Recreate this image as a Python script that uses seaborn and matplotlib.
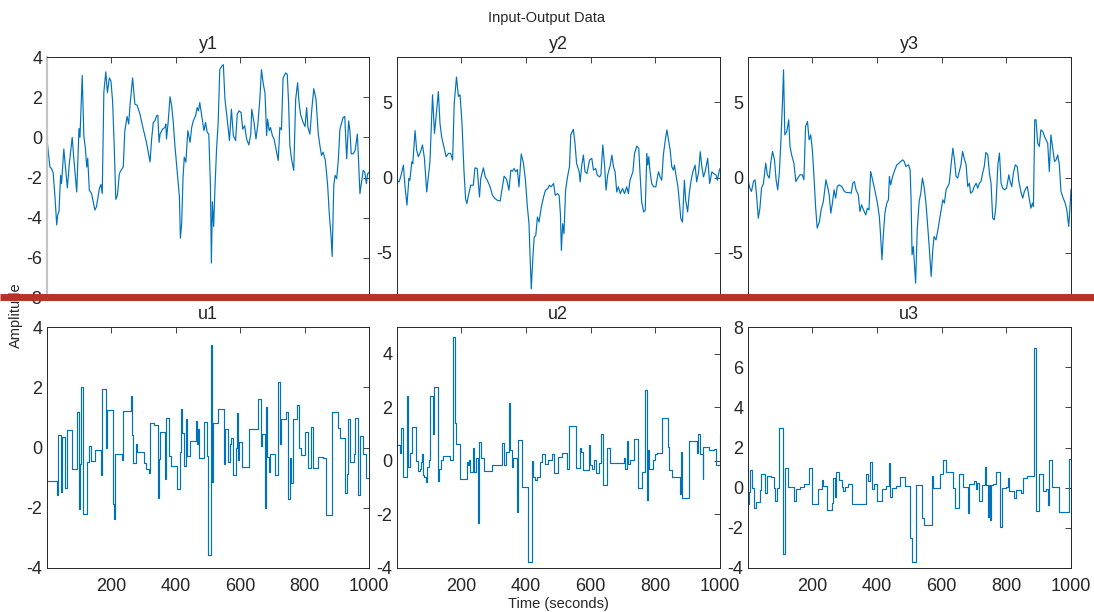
import numpy as np
import pandas as pd
import matplotlib
matplotlib.use("Agg")
import matplotlib.pyplot as plt
from matplotlib.lines import Line2D
import seaborn as sns

# ---- output channels (sampled response) ----
t_y1 = [1, 6, 11, 16, 21, 27, 32, 35, 39, 44, 47, 54, 59, 65, 71, 80, 85, 94, 101, 104,
        111, 116, 121, 125, 128, 133, 140, 150, 155, 164, 169, 173, 178, 184, 189, 195, 200, 205, 210, 215,
        220, 226, 231, 238, 243, 250, 255, 259, 267, 274, 281, 290, 300, 310, 321, 326, 331, 336, 341, 345,
        349, 352, 360, 367, 370, 372, 377, 383, 388, 393, 398, 403, 408, 412, 415, 419, 423, 427, 432, 438,
        445, 450, 455, 462, 467, 471, 475, 482, 488, 493, 498, 503, 508, 511, 514, 518, 522, 527, 532, 537,
        543, 548, 553, 560, 567, 573, 579, 586, 591, 597, 603, 608, 614, 620, 627, 633, 636, 643, 649, 655,
        661, 666, 672, 677, 682, 685, 690, 694, 700, 705, 711, 718, 723, 728, 733, 741, 746, 750, 754, 759,
        766, 772, 778, 782, 787, 795, 801, 806, 810, 816, 822, 828, 835, 842, 847, 852, 857, 864, 871, 876,
        882, 885, 890, 894, 899, 904, 909, 919, 924, 930, 936, 940, 944, 950, 956, 963, 966, 971, 976, 981,
        986, 991, 995, 1000]
y1 = [0.08, -0.74, -1.48, -1.56, -1.76, -3.05, -4.36, -3.87, -3.7, -1.89,
      -2.3, -0.58, -1.48, -2.52, -1.32, 0.0, -1.07, -2.72, 0.44, 0.0,
      3.08, 0.08, -0.58, -1.48, -1.04, -2.63, -2.8, -3.62, -3.46, -2.55,
      -2.35, -2.8, 2.25, 3.26, 2.22, 2.96, 2.8, 1.81, -0.41, -3.09,
      -2.88, -1.81, -1.65, -1.48, 0.33, 1.04, 0.66, 1.61, 2.96, 1.65,
      1.6, 1.15, 0.41, -0.25, -1.23, -0.08, 0.74, 0.82, 1.07, 1.1,
      -0.25, 0.16, 0.41, 0.49, 0.66, -0.08, 0.74, 2.02, 1.56, 0.74,
      -0.41, -1.32, -2.22, -2.96, -5.02, -4.28, -2.06, -0.99, -1.23, 0.33,
      -0.25, 0.49, 0.82, 1.07, 1.48, 1.32, 1.73, 0.99, 0.33, 0.74,
      0.25, 0.16, -2.39, -6.26, -3.21, -4.44, -2.55, -0.58, 0.74, 3.37,
      3.54, 3.62, 1.89, 0.91, -0.16, 1.4, 0.08, -0.16, 1.15, 1.32,
      1.23, 0.41, 0.58, -0.08, -0.38, 0.16, 1.4, 0.74, -0.08, 0.66,
      1.89, 3.37, 2.63, 2.22, 0.08, 0.91, 0.33, 0.49, 0.08, -0.08,
      -0.58, -1.15, 0.49, 0.38, 2.96, 3.21, 3.13, 1.73, -0.41, -1.07,
      -1.65, 1.89, 2.72, 1.81, 1.15, 0.74, 0.54, 1.48, 0.49, 0.16,
      1.4, 2.42, 1.89, 0.16, -0.41, -0.9, -0.74, -1.15, -2.39, -3.79,
      -5.02, -5.93, -2.39, -1.89, -2.06, -1.15, 0.41, 0.99, 1.04, -1.07,
      0.82, 0.33, -0.82, -0.82, -0.66, 0.16, -0.9, -2.8, -2.22, -1.65,
      -1.73, -2.3, -1.81, -1.73]

t_y2 = [1, 9, 15, 22, 27, 33, 39, 42, 48, 51, 58, 63, 68, 75, 81, 87, 94, 98, 104, 112,
        118, 124, 130, 135, 140, 147, 154, 161, 168, 174, 179, 186, 192, 197, 203, 209, 214, 218, 223, 230,
        238, 243, 250, 257, 261, 269, 275, 281, 290, 297, 305, 312, 321, 327, 333, 341, 348, 354, 359, 364,
        369, 374, 379, 386, 393, 399, 405, 410, 413, 417, 422, 426, 431, 436, 441, 448, 455, 461, 468, 473,
        478, 486, 491, 498, 503, 507, 510, 514, 518, 523, 529, 535, 539, 547, 552, 557, 565, 568, 573, 578,
        583, 589, 597, 604, 609, 616, 621, 628, 632, 638, 643, 648, 653, 661, 666, 671, 676, 681, 686, 692,
        699, 705, 712, 717, 722, 731, 736, 743, 749, 753, 758, 764, 769, 774, 777, 780, 784, 789, 795, 802,
        805, 810, 815, 820, 825, 831, 836, 841, 846, 851, 856, 859, 865, 870, 875, 879, 884, 890, 894, 900,
        905, 910, 916, 923, 928, 934, 939, 944, 949, 954, 962, 968, 975, 980, 988, 992, 997, 1000]
y2 = [-0.18, -0.29, 0.16, 0.82, -0.62, -1.84, -0.07, -0.18, 1.04, 0.93,
      3.11, 1.82, 1.38, 1.71, 2.16, 1.27, -0.96, -0.18, 1.04, 5.49,
      2.93, 4.27, 5.71, 3.6, 2.71, 2.04, 1.38, 1.6, 1.6, 1.16,
      4.93, 6.67, 5.38, 5.49, 3.6, 0.49, -1.4, -1.73, -1.18, -0.51,
      -0.51, 0.64, 0.6, -1.29, -0.07, 0.64, 0.04, -0.18, -0.62, -1.18,
      -1.4, -1.51, -1.56, -0.73, 0.09, -0.13, -0.84, 0.49, 0.42, 0.6,
      0.38, 0.53, -0.62, 1.56, 0.93, -0.18, -1.96, -3.07, -5.07, -7.4,
      -5.29, -3.96, -3.84, -2.62, -2.96, -1.96, -1.29, -0.84, -0.73, -0.51,
      -0.62, -0.4, -1.18, -1.07, -1.18, -2.4, -4.84, -3.07, -3.73, -0.84,
      0.04, 0.71, 2.82, 3.2, 2.27, 0.93, 0.38, -0.29, 0.82, 1.49,
      0.38, 0.27, 1.16, 1.27, 0.49, 0.6, 0.16, 0.04, 0.16, 2.16,
      0.93, -0.84, 0.16, 0.82, 1.49, 0.71, 0.38, -0.96, -0.62, -1.07,
      -0.73, -1.07, -0.62, -1.07, -0.18, 0.38, 1.6, 2.09, 1.93, 0.27,
      -1.62, -2.29, -2.18, 1.6, 0.82, 1.38, 0.38, -0.4, -0.62, -0.62,
      -0.18, 0.38, 0.04, -0.18, 1.49, 2.49, 3.16, 2.49, 1.82, 0.71,
      0.49, 0.82, 0.04, -0.62, -1.73, -2.73, -2.96, -0.18, -1.51, -2.29,
      -1.07, -0.29, 0.38, 0.82, -0.29, 0.38, 1.71, 0.71, 0.04, 0.38,
      1.27, -0.4, 0.38, 0.27, 0.16, -0.18, 0.38, 0.6]

t_y3 = [1, 8, 13, 19, 24, 29, 34, 39, 44, 50, 57, 62, 68, 73, 78, 84, 89, 94, 99, 104,
        109, 112, 116, 122, 128, 132, 137, 144, 150, 156, 163, 170, 175, 180, 186, 191, 196, 201, 206, 211,
        216, 223, 228, 235, 243, 248, 253, 258, 263, 268, 273, 278, 284, 292, 300, 307, 314, 321, 326, 331,
        336, 343, 348, 353, 359, 366, 371, 376, 381, 387, 395, 402, 408, 412, 416, 420, 425, 431, 436, 439,
        443, 449, 456, 462, 469, 474, 480, 485, 490, 498, 503, 506, 509, 513, 520, 525, 531, 536, 541, 546,
        552, 557, 562, 568, 573, 577, 583, 588, 593, 599, 604, 609, 614, 619, 624, 629, 635, 640, 645, 650,
        655, 660, 665, 670, 676, 681, 686, 690, 696, 701, 707, 712, 717, 722, 727, 732, 737, 743, 748, 753,
        758, 763, 768, 774, 779, 784, 789, 794, 801, 808, 812, 817, 822, 828, 834, 839, 845, 851, 856, 861,
        865, 870, 876, 881, 884, 888, 892, 897, 902, 907, 913, 918, 923, 928, 933, 938, 944, 949, 954, 959,
        964, 969, 976, 982, 987, 993, 997, 1000]
y3 = [-0.04, -0.71, -0.93, -0.27, -0.15, -1.26, -2.7, -2.04, -0.71, -0.38,
      0.95, 0.18, -0.04, 1.06, 1.73, 1.17, -0.15, -0.82, 0.29, 2.5,
      5.15, 7.15, 2.83, 3.05, 3.83, 2.06, 1.5, 0.95, -0.27, -0.04,
      0.18, 0.18, -0.15, 3.38, 3.72, 2.5, 2.83, 1.84, 0.07, -1.92,
      -3.36, -2.92, -2.15, -1.59, -0.15, -0.6, -1.15, -2.37, -1.7, -0.82,
      -1.37, -0.6, -0.49, -0.6, -0.93, -1.0, -1.0, -1.04, -0.38, -0.27,
      -0.82, -1.15, -2.26, -1.81, -2.15, -2.48, -2.04, -2.15, 0.4, -0.15,
      -0.93, -1.7, -2.59, -3.92, -5.46, -3.92, -2.37, -1.7, -1.48, 0.07,
      -0.49, 0.07, 0.51, 0.84, 0.95, 1.06, 1.17, 1.06, 0.73, 0.84,
      0.51, -1.48, -5.13, -4.58, -7.01, -3.47, -1.59, -1.04, -0.04, -0.6,
      -1.7, -3.14, -4.58, -6.57, -4.8, -3.92, -4.14, -3.58, -2.92, -2.15,
      -1.48, -1.7, -0.82, -0.6, -0.38, 0.73, 1.95, 1.17, 0.07, -0.04,
      0.4, 0.84, 1.73, 1.28, 0.84, -0.6, -0.38, -1.04, -0.93, -0.6,
      -0.38, -0.71, -0.38, -0.27, 0.29, 0.73, 1.66, 1.5, 0.29, -0.38,
      -2.7, -2.81, -1.92, 0.84, 1.62, -0.38, -0.71, -0.82, -0.71, 0.18,
      -0.27, -0.6, 0.29, 0.84, 0.73, -0.27, -0.93, -1.37, -0.93, -0.71,
      -0.6, -1.26, -2.04, -1.7, -1.92, 3.83, 3.83, 2.28, 2.06, 3.16,
      3.05, 2.72, 2.5, 2.28, 0.4, 2.83, 1.84, 1.06, 1.17, 1.5,
      0.84, -0.93, -1.37, -1.7, -2.15, -3.25, -1.92, -0.77]

# ---- input channels (piecewise constant, value holds from each switch time) ----
t_u1 = [1, 33, 37, 45, 48, 58, 65, 80, 94, 100, 103, 107, 112, 125, 133, 137, 151, 169, 173, 184,
        189, 205, 209, 212, 233, 237, 261, 266, 269, 277, 280, 301, 308, 317, 321, 334, 346, 349, 352, 367,
        371, 380, 387, 405, 413, 416, 421, 426, 433, 437, 445, 462, 465, 468, 472, 488, 497, 501, 510, 514,
        517, 530, 550, 553, 561, 569, 573, 578, 586, 589, 594, 596, 605, 628, 656, 664, 668, 677, 680, 684,
        689, 693, 708, 718, 723, 726, 742, 749, 754, 758, 764, 777, 782, 790, 801, 811, 818, 827, 842, 857,
        865, 885, 902, 909, 924, 930, 935, 939, 952, 957, 964, 971, 981, 989, 1000]
u1 = [-1.1, -1.58, 0.41, -1.47, 0.35, -1.33, 0.59, -0.73, 1.19, -2.04,
      -0.55, 2.0, -2.2, -0.47, 0.05, -0.45, -0.07, -0.92, 1.93, -0.03,
      1.24, -1.89, -2.37, -0.23, -0.4, 1.2, 1.7, 0.43, -0.5, 0.1,
      -0.14, -0.5, -0.72, -0.84, 0.8, 0.74, -1.69, -0.39, 0.52, -1.06,
      0.98, -0.28, -0.62, -1.38, -0.14, 1.29, 0.49, -0.62, 0.93, -0.28,
      0.21, 0.87, 0.13, 0.6, -0.36, 0.85, -0.28, -3.57, 3.41, -1.14,
      0.8, 1.29, -0.56, 0.63, -0.48, 0.11, 0.33, -0.92, 0.0, 1.15,
      -0.42, 0.19, -0.64, 0.6, 1.62, 0.05, 0.45, -2.02, 1.35, -0.31,
      -0.8, -0.22, -0.9, 2.18, 0.11, 0.96, 1.18, -1.72, -0.36, -1.19,
      0.96, 1.42, -0.03, -0.25, 0.52, -0.67, 0.68, -0.67, -0.31, -0.36,
      -2.24, 1.18, 0.66, 0.33, -1.5, -0.88, 0.96, -0.48, -0.2, 0.98,
      -1.58, 0.37, -0.2, -1.0, -1.0]

t_u2 = [1, 11, 15, 20, 34, 37, 41, 50, 60, 66, 72, 75, 78, 83, 87, 91, 94, 101, 104, 114,
        118, 130, 133, 137, 143, 166, 176, 181, 184, 197, 217, 222, 225, 229, 237, 241, 245, 251, 257, 262,
        270, 297, 326, 334, 338, 347, 352, 356, 360, 374, 377, 388, 408, 418, 421, 429, 434, 444, 449, 460,
        470, 480, 488, 499, 511, 527, 534, 554, 566, 571, 578, 594, 598, 604, 610, 617, 625, 631, 638, 650,
        659, 702, 707, 714, 717, 723, 733, 748, 760, 769, 774, 777, 781, 794, 800, 805, 820, 838, 841, 853,
        875, 879, 882, 903, 930, 933, 939, 946, 949, 966, 983, 988, 1000]
u2 = [0.61, 0.3, 1.24, -0.61, 2.43, -0.22, 0.29, 1.27, -0.01, -0.37,
      -0.3, -0.04, 0.24, -0.51, -0.6, -0.79, -0.22, 0.02, 2.42, 1.02,
      2.75, -0.76, -0.29, 0.02, 0.2, 0.02, 4.64, 1.42, 0.62, -0.66,
      -0.04, -0.16, 0.05, -0.41, 0.5, -0.41, 0.09, -2.32, 0.69, 0.12,
      -0.37, -0.16, 0.66, -0.16, 0.34, 2.15, 0.42, -0.22, 0.09, -1.91,
      0.77, -0.97, -3.76, -0.01, -0.6, -0.7, -0.6, -0.06, 0.25, -0.12,
      0.05, 0.25, -0.45, 0.15, 0.31, -0.29, 1.29, -0.25, 0.49, 0.34,
      -0.35, 0.59, -0.14, -0.32, 0.02, -0.45, -0.07, 1.02, -0.91, 0.5,
      -0.07, 0.09, -0.31, 0.74, -0.1, 0.02, 0.8, -1.0, -0.41, 2.65,
      -1.45, 0.42, -0.32, 0.02, 0.25, 0.3, 1.59, 0.52, -0.35, -0.62,
      -1.22, 0.34, -1.39, 0.74, 0.3, 1.01, 0.25, -0.69, 0.52, 0.39,
      0.44, -0.14, 1.0]

t_u3 = [1, 4, 8, 15, 22, 27, 39, 43, 55, 60, 74, 84, 87, 92, 97, 111, 117, 127, 143, 151,
        164, 176, 192, 200, 220, 231, 235, 245, 261, 264, 271, 274, 284, 293, 297, 302, 310, 324, 367, 372,
        380, 385, 393, 401, 415, 427, 437, 441, 446, 460, 472, 487, 503, 508, 521, 540, 547, 570, 573, 596,
        606, 614, 637, 643, 653, 667, 681, 686, 701, 705, 710, 717, 725, 734, 737, 743, 748, 750, 753, 760,
        768, 781, 786, 799, 804, 810, 825, 830, 846, 851, 863, 885, 892, 902, 913, 923, 928, 933, 940, 964,
        993, 1000]
u3 = [-0.81, -0.2, 0.88, -0.03, -1.03, -0.73, -0.12, 0.66, -0.28, 0.6,
      0.51, -0.03, -0.65, -0.03, 2.95, -3.32, 0.96, 0.05, -0.65, -0.08,
      0.02, 0.17, 0.96, -0.83, -0.08, 0.38, 0.08, -1.11, -0.78, 0.46,
      -0.45, 0.8, 0.38, 0.05, -0.17, 0.05, 0.17, -0.83, 0.66, 0.33,
      1.29, -0.08, 0.17, -0.65, -0.08, 0.08, 1.24, -0.48, 0.0, 0.07,
      0.51, 0.1, -2.52, -3.72, 0.13, -1.53, -1.86, 0.6, 0.0, 0.68,
      1.38, 0.8, -0.03, -1.0, 0.66, 0.02, -1.28, 0.18, 0.33, -0.08,
      0.22, -0.66, 0.13, 1.05, 0.13, -1.44, 0.13, -1.61, 0.13, 0.18,
      0.8, -1.94, 0.0, 0.05, 0.5, -0.17, -0.53, -0.12, -0.28, 0.46,
      0.6, 6.94, -1.15, 0.66, -0.15, -0.07, -0.86, 1.38, 0.05, -1.23,
      1.43, 1.43]

titles = ["y1", "y2", "y3", "u1", "u2", "u3"]
x_ticks = [200, 400, 600, 800, 1000]
y_limits = [(-8, 4), (-8, 8), (-8, 8), (-4, 4), (-4, 5), (-4, 8)]
y_ticks = [[-8, -6, -4, -2, 0, 2, 4], [-5, 0, 5], [-5, 0, 5],
           [-4, -2, 0, 2, 4], [-4, -2, 0, 2, 4], [-4, -2, 0, 2, 4, 6, 8]]

series = [(t_y1, y1), (t_y2, y2), (t_y3, y3), (t_u1, u1), (t_u2, u2), (t_u3, u3)]

sns.set_theme(style="white")
plt.rcParams["font.family"] = ["Liberation Sans", "DejaVu Sans"]
plt.rcParams["axes.unicode_minus"] = False

LINE = "#0072BD"
INK = "#262626"

W, H = 1094, 612
fig = plt.figure(figsize=(W / 100, H / 100), dpi=100)

col_px = [(46.7, 369.3), (396.6, 720.0), (747.6, 1071.0)]
row_px = [(57.0, 298.0), (327.0, 568.0)]

for i, (name, (tt, vv)) in enumerate(zip(titles, series)):
    r, c = divmod(i, 3)
    x0, x1 = col_px[c]
    top, bot = row_px[r]
    ax = fig.add_axes([x0 / W, 1 - bot / H, (x1 - x0) / W, (bot - top) / H])
    df = pd.DataFrame({"t": tt, "v": vv})
    kws = dict(drawstyle="steps-post") if r == 1 else {}
    sns.lineplot(data=df, x="t", y="v", ax=ax, color=LINE, linewidth=0.85,
                 estimator=None, sort=False, **kws)
    ax.set_xlim(1, 1000)
    ax.set_ylim(*y_limits[i])
    ax.set_xticks(x_ticks)
    ax.set_yticks(y_ticks[i])
    ax.set_xlabel("")
    ax.set_ylabel("")
    if r == 0:
        ax.set_xticklabels([])
    ax.tick_params(direction="in", top=True, right=True, length=4, width=0.6,
                   labelsize=13, colors=INK)
    ax.tick_params(axis="x", pad=7)
    ax.tick_params(axis="y", pad=3)
    for s in ax.spines.values():
        s.set_color(INK)
        s.set_linewidth(0.7)
    ax.set_title(name, fontsize=13, color=INK, pad=6)
    ax.grid(False)
    if i == 0:
        ax.spines["left"].set_color("#c4c4c4")
        ax.spines["left"].set_linewidth(1.6)

fig.text(0.5, 1 - 18 / H, "Input-Output Data", ha="center", va="center",
         fontsize=10.5, color=INK)
fig.text(558 / W, 1 - 604 / H, "Time (seconds)", ha="center", va="center",
         fontsize=10.5, color=INK)
fig.text(16 / W, 1 - 315 / H, "Amplitude", ha="center", va="center",
         rotation=90, fontsize=10.5, color=INK)

# horizontal divider across the whole figure
fig.add_artist(Line2D([0, 1], [1 - 296.5 / H, 1 - 296.5 / H], transform=fig.transFigure,
                      color="#b8312c", linewidth=5.0, solid_capstyle="butt", zorder=100))

fig.savefig("out.png", dpi=100)
